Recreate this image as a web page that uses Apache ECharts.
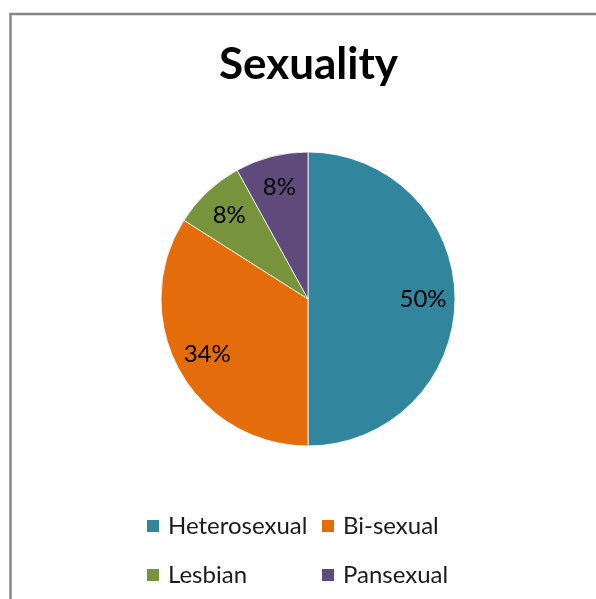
<!DOCTYPE html>
<html>
<head>
<meta charset="utf-8">
<script src="https://cdn.jsdelivr.net/npm/echarts@6/dist/echarts.min.js"></script>
<style>
  html, body { margin: 0; padding: 0; background: #fff; }
  #chart { width: 596px; height: 599px; }
</style>
</head>
<body>
<div id="chart"></div>
<script>
// Survey breakdown by sexuality (percent of respondents)
const categories = ['Heterosexual', 'Bi-sexual', 'Lesbian', 'Pansexual'];
const shares = [50, 34, 8, 8];
const colors = ['#31859C', '#E46C0A', '#77933C', '#604A7B'];

const FONT = 'Lato, "Open Sans", sans-serif';
const pieData = categories.map((name, i) => ({
  name: name,
  value: shares[i],
  itemStyle: { color: colors[i] }
}));

const legendBase = {
  orient: 'vertical',
  top: 512,
  padding: 0,
  icon: 'rect',
  itemWidth: 14,
  itemHeight: 14,
  itemGap: 21,
  selectedMode: false,
  textStyle: { fontFamily: FONT, fontSize: 24, color: '#1a1a1a', lineHeight: 28, padding: [0, 0, 0, 3] }
};

const chart = echarts.init(document.getElementById('chart'), null, { renderer: 'canvas' });

chart.setOption({
  backgroundColor: '#ffffff',
  animation: false,
  title: {
    text: 'Sexuality',
    left: 219,
    top: 43,
    padding: 0,
    textStyle: { fontFamily: FONT, fontWeight: 'bold', fontSize: 44, color: '#000' }
  },
  graphic: [{
    type: 'rect',
    silent: true,
    shape: { x: 10.5, y: 14, width: 800, height: 800 },
    style: { fill: 'none', stroke: '#878787', lineWidth: 2.5 }
  }],
  legend: [
    Object.assign({}, legendBase, { data: [categories[0], categories[2]], left: 145 }),
    Object.assign({}, legendBase, { data: [categories[1], categories[3]], left: 320 })
  ],
  series: [
    {
      type: 'pie',
      center: [308, 299],
      radius: [0, 147],
      startAngle: 90,
      clockwise: true,
      silent: true,
      data: pieData,
      itemStyle: { borderColor: '#ffffff', borderWidth: 0.8 },
      label: { show: false },
      labelLine: { show: false }
    },
    {
      // transparent twin ring that carries the percentage labels further out
      type: 'pie',
      center: [308, 299],
      radius: [0, 224],
      startAngle: 90,
      clockwise: true,
      silent: true,
      z: 3,
      data: categories.map((name, i) => ({
        name: name,
        value: shares[i],
        itemStyle: { color: 'rgba(0,0,0,0)' }
      })),
      itemStyle: { borderWidth: 0 },
      label: {
        show: true,
        position: 'inside',
        formatter: '{c}%',
        fontFamily: FONT,
        fontSize: 24,
        color: '#000'
      },
      labelLine: { show: false }
    }
  ]
});
</script>
</body>
</html>
